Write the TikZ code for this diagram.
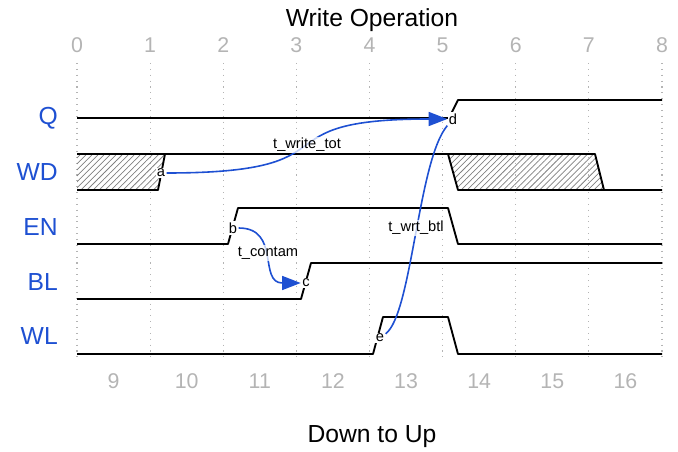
\documentclass[tikz,border=0pt]{standalone}
\usepackage{fontspec}
\setmainfont{Liberation Sans}
\usetikzlibrary{patterns.meta,arrows.meta}
\definecolor{wblue}{HTML}{1E50D2}
\definecolor{tickgray}{HTML}{B4B4B4}
\begin{document}
\begin{tikzpicture}[x=0.75pt,y=-0.75pt,
  waveline/.style={line width=1.4pt, line join=round},
  gridline/.style={draw=tickgray, line width=0.8pt, dash pattern=on 0.8pt off 3.6pt},
  hatchfill/.style={pattern={Lines[angle=45,distance=3.2pt,line width=0.55pt]}, pattern color=gray},
  lanelbl/.style={font=\fontsize{18.5}{20}\selectfont, text=wblue, anchor=east, inner sep=0pt},
  numlbl/.style={font=\fontsize{16}{18}\selectfont, text=tickgray, inner sep=0pt},
  titlelbl/.style={font=\fontsize{18.5}{20}\selectfont, inner sep=0pt},
  markerlbl/.style={font=\fontsize{11}{12}\selectfont, fill=white, inner sep=1pt},
  delaylbl/.style={font=\fontsize{11}{12}\selectfont, fill=white, fill opacity=0.75, text opacity=1, inner sep=1pt},
  conn/.style={draw=wblue, line width=1.2pt},
  conntip/.style={-{Triangle[length=14pt,width=10.5pt]}}
]
\useasboundingbox (0,0) rectangle (678,452);

% titles
\node[titlelbl] (title) at (372,20) {Write Operation};
\node[titlelbl] (subtitle) at (372,437) {Down to Up};

% grid and numbers
\foreach \k in {0,...,8}{
  \draw[gridline] ({77+73.125*\k},63) -- ({77+73.125*\k},362);
  \node[numlbl] (top\k) at ({77+73.125*\k},45) {\k};
}
\foreach \k in {0,...,7}{
  \pgfmathtruncatemacro\nn{\k+9}
  \node[numlbl] (bot\k) at ({77+73.125*(\k+0.5)},381) {\nn};
}

% lane names
\node[lanelbl] (lQ)  at (58,118) {Q};
\node[lanelbl] (lWD) at (58,172) {WD};
\node[lanelbl] (lEN) at (58,227) {EN};
\node[lanelbl] (lBL) at (58,282) {BL};
\node[lanelbl] (lWL) at (58,336) {WL};

% WD hatches
\fill[hatchfill] (77,154) -- (165,154) -- (158,190) -- (77,190) -- cycle;
\fill[hatchfill] (448,154) -- (595,154) -- (604,190) -- (458,190) -- cycle;

% waves
\draw[waveline] (77,118) -- (449,118) -- (458,100) -- (662,100);
\draw[waveline] (77,154) -- (595,154) -- (604,190);
\draw[waveline] (77,190) -- (158,190) -- (165,154);
\draw[waveline] (448,154) -- (458,190) -- (662,190);
\draw[waveline] (77,244) -- (228,244) -- (238,208) -- (448,208) -- (458,244) -- (662,244);
\draw[waveline] (77,299) -- (301,299) -- (311,263) -- (662,263);
\draw[waveline] (77,354) -- (373,354) -- (383,317) -- (448,317) -- (458,354) -- (662,354);

% markers
\node[markerlbl] (a) at (161,173) {a};
\node[markerlbl] (b) at (233,228) {b};
\node[markerlbl] (c) at (306,283) {c};
\node[markerlbl] (d) at (453,119) {d};
\node[markerlbl] (e) at (380,338) {e};

% connectors
\draw[conn] (e) .. controls +(32,-24) and +(-35,41) .. (d);
\draw[conn,conntip] (a) .. controls +(202,0) and +(-202,0) .. (d);
\draw[conn,conntip] (b) .. controls +(48,0) and +(-48,0) .. (c);

% delay labels
\node[delaylbl] (twt) at (307,145) {t\_write\_tot};
\node[delaylbl] (tc) at (268,253) {t\_contam};
\node[delaylbl] (twb) at (416,228) {t\_wrt\_btl};
\end{tikzpicture}
\end{document}
